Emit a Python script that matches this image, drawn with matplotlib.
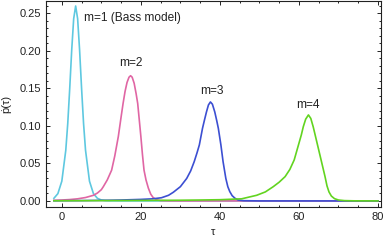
import matplotlib
matplotlib.use('Agg')
import matplotlib.pyplot as plt
from matplotlib.ticker import MultipleLocator

plt.rcParams['font.family'] = ['Liberation Sans', 'DejaVu Sans']

# curve samples (tau, p-dot)
tau1 = [-2, -1, 0, 1, 1.5, 2, 2.5, 3, 3.5, 4, 4.5, 5, 5.5, 6, 7, 8, 9, 10, 11, 12, 15, 80]
val1 = [0.0035, 0.0097, 0.0263, 0.0675, 0.1033, 0.150, 0.201, 0.243, 0.260, 0.243, 0.201,
        0.150, 0.1033, 0.0675, 0.0263, 0.0097, 0.0035, 0.0012, 0.0004, 0.00015, 0.0, 0.0]

tau2 = [-2, 0, 2, 4, 6, 8, 9, 10, 10.5, 11.5, 12.6, 13.4, 14.3, 15, 15.5, 16, 16.5, 17, 17.4,
        17.8, 18.3, 18.8, 19.2, 19.6, 20.0, 20.4, 20.8, 21.3, 21.9, 22.5, 23.1, 24, 25, 27, 30, 80]
val2 = [0.0008, 0.0012, 0.0018, 0.0028, 0.0045, 0.0075, 0.0105, 0.015, 0.019, 0.028, 0.041,
        0.060, 0.086, 0.112, 0.130, 0.146, 0.158, 0.165, 0.167, 0.165, 0.157, 0.143, 0.130,
        0.108, 0.086, 0.062, 0.041, 0.028, 0.017, 0.009, 0.0045, 0.0015, 0.0004, 0.0001, 0.0, 0.0]

tau3 = [-2, 5, 10, 15, 20, 23, 25.2, 27, 28.2, 30, 31.6, 32.6, 33.5, 34.2, 34.8, 35.6, 36.1,
        36.6, 37.1, 37.6, 38.1, 38.7, 39.2, 39.6, 40.25, 40.8, 41.5, 42.0, 42.5, 43.1, 43.8,
        44.6, 46, 50, 80]
val3 = [0.0002, 0.0004, 0.0007, 0.0012, 0.002, 0.0028, 0.0042, 0.0075, 0.0115, 0.019, 0.030,
        0.040, 0.0524, 0.064, 0.0747, 0.0969, 0.108, 0.1187, 0.128, 0.132, 0.129, 0.1187,
        0.107, 0.0969, 0.0747, 0.0524, 0.030, 0.019, 0.0124, 0.0070, 0.0036, 0.0012, 0.0003,
        0.0, 0.0]

tau4 = [-2, 10, 20, 30, 35, 40, 45.5, 49.3, 51.5, 53.5, 55, 56.5, 57.7, 58.8, 60.0, 60.6, 61.1,
        61.7, 62.4, 63.0, 63.6, 64.1, 64.6, 65.6, 66.6, 67.1, 67.6, 68.2, 69, 70, 71.5, 74, 80]
val4 = [0.0002, 0.0004, 0.0006, 0.0009, 0.0012, 0.0016, 0.0028, 0.0075, 0.012, 0.019, 0.025,
        0.0324, 0.042, 0.0547, 0.0769, 0.088, 0.099, 0.109, 0.1147, 0.110, 0.099, 0.088,
        0.0769, 0.0547, 0.0324, 0.020, 0.012, 0.0065, 0.003, 0.0012, 0.0004, 0.0001, 0.0]

labels = ['m=1 (Bass model)', 'm=2', 'm=3', 'm=4']
colors = ['#5ec8e0', '#e066a4', '#3c4fd2', '#62d420']

fig = plt.figure(figsize=(3.85, 2.42), dpi=100)
ax = fig.add_axes([0.119, 0.145, 0.871, 0.851])

for t, v, c in zip([tau1, tau2, tau3, tau4], [val1, val2, val3, val4], colors):
    ax.plot(t, v, color=c, lw=1.2, solid_joinstyle='round')

txt = dict(fontsize=8.6, color='#222222', va='center')
ax.text(5.6, 0.244, labels[0], ha='left', **txt)
ax.text(17.5, 0.184, labels[1], ha='center', **txt)
ax.text(38.0, 0.147, labels[2], ha='center', **txt)
ax.text(62.3, 0.128, labels[3], ha='center', **txt)

ax.set_xlim(-4.05, 80.8)
ax.set_ylim(-0.008, 0.2667)
ax.xaxis.set_major_locator(MultipleLocator(20))
ax.xaxis.set_minor_locator(MultipleLocator(5))
ax.yaxis.set_major_locator(MultipleLocator(0.05))
ax.yaxis.set_minor_locator(MultipleLocator(0.01))
ax.yaxis.set_major_formatter(plt.FuncFormatter(lambda y, _: f'{y:.2f}'))
ax.tick_params(which='both', direction='in', top=True, right=True, color='#222222',
               labelsize=8, labelcolor='#222222', width=0.7)
ax.tick_params(which='major', length=3)
ax.tick_params(which='minor', length=1.6)
for s in ax.spines.values():
    s.set_color('#222222')
    s.set_linewidth(0.8)

ax.set_xlabel('τ', fontsize=8, color='#222222', labelpad=3.5)
ax.set_ylabel('ṗ(τ)', fontsize=8, color='#222222', labelpad=6)

fig.savefig('out.png', dpi=100)
